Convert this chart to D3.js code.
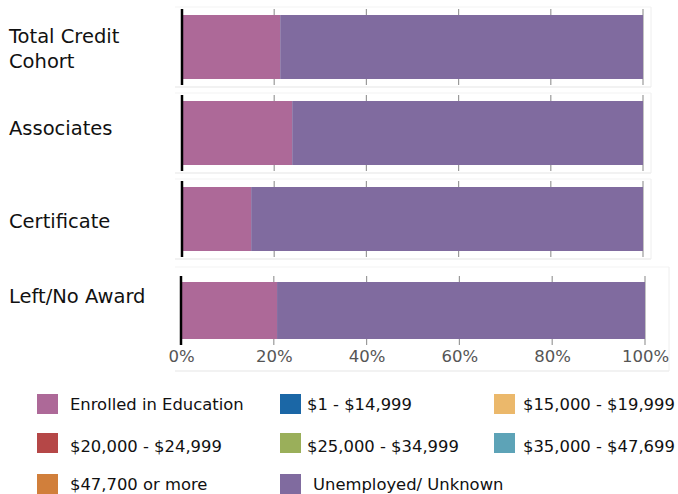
<!DOCTYPE html>
<html>
<head>
<meta charset="utf-8">
<script src="https://cdn.jsdelivr.net/npm/d3@7"></script>
<style>
  body { margin: 0; background: #fff; }
  svg text { font-family: "DejaVu Sans", Verdana, sans-serif; }
</style>
</head>
<body>
<div id="chart"></div>
<script>
// categories and series (percent of each cohort)
const categories = ["Total Credit Cohort", "Associates", "Certificate", "Left/No Award"];
const labelLines = [["Total Credit", "Cohort"], ["Associates"], ["Certificate"], ["Left/No Award"]];
const seriesNames = ["Enrolled in Education", "$1 - $14,999", "$15,000 - $19,999", "$20,000 - $24,999",
  "$25,000 - $34,999", "$35,000 - $47,699", "$47,700 or more", "Unemployed/ Unknown"];
const enrolled   = [21.3, 23.9, 15.0, 20.7];
const inc1       = [0, 0, 0, 0];
const inc15      = [0, 0, 0, 0];
const inc20      = [0, 0, 0, 0];
const inc25      = [0, 0, 0, 0];
const inc35      = [0, 0, 0, 0];
const inc47      = [0, 0, 0, 0];
const unemployed = [78.7, 76.1, 85.0, 79.3];
const tickValues = [0, 20, 40, 60, 80, 100];

const colors = ["#ad6998", "#1b67a6", "#ebb86b", "#b54747", "#9aaf5a", "#5da3b7", "#d17f3b", "#806b9f"];
const allSeries = [enrolled, inc1, inc15, inc20, inc25, inc35, inc47, unemployed];

const W = 678, H = 494;
const svg = d3.select("#chart").append("svg")
  .attr("width", W).attr("height", H);

// each category gets its own little panel
const panels = [
  {top: 7,   bottom: 87,  left: 175, right: 651, x0: 182, x1: 643, axTop: 9,   axBot: 85,  labelY: 43},
  {top: 93,  bottom: 173, left: 175, right: 651, x0: 182, x1: 643, axTop: 95,  axBot: 171, labelY: 135},
  {top: 179, bottom: 259, left: 175, right: 651, x0: 182, x1: 643, axTop: 181, axBot: 257, labelY: 228},
  {top: 267, bottom: 371, left: 175, right: 669, x0: 181, x1: 645, axTop: 276, axBot: 345, labelY: 303}
];

const rows = categories.map((c, i) => {
  let acc = 0;
  const segs = allSeries.map((s, k) => {
    const seg = {key: k, start: acc, end: acc + s[i]};
    acc += s[i];
    return seg;
  });
  return {cat: c, segs: segs};
});

rows.forEach((row, i) => {
  const p = panels[i];
  const x = d3.scaleLinear().domain([0, 100]).range([p.x0, p.x1]);
  const g = svg.append("g");

  // faint panel frame
  g.append("line").attr("x1", p.left).attr("x2", p.right).attr("y1", p.top).attr("y2", p.top)
    .attr("stroke", "#f3f3f3");
  g.append("line").attr("x1", p.left).attr("x2", p.right).attr("y1", p.bottom).attr("y2", p.bottom)
    .attr("stroke", "#eeeeee").attr("stroke-width", 1.5);
  g.append("line").attr("x1", p.right).attr("x2", p.right).attr("y1", p.top).attr("y2", p.bottom)
    .attr("stroke", "#eeeeee");

  // gridlines
  g.selectAll(".grid").data(tickValues.slice(1)).enter().append("line")
    .attr("x1", d => x(d)).attr("x2", d => x(d))
    .attr("y1", p.axTop).attr("y2", p.axBot)
    .attr("stroke", "#9a9a9a").attr("stroke-width", 1.2);

  const barTop = p.axTop + 6, barBot = p.axBot - 6;
  g.selectAll(".seg").data(row.segs.filter(s => s.end > s.start)).enter().append("rect")
    .attr("x", d => x(d.start))
    .attr("width", d => x(d.end) - x(d.start))
    .attr("y", barTop)
    .attr("height", barBot - barTop)
    .attr("fill", d => colors[d.key]);

  // axis line
  g.append("line").attr("x1", p.x0).attr("x2", p.x0).attr("y1", p.axTop).attr("y2", p.axBot)
    .attr("stroke", "#000").attr("stroke-width", 2.5);

  // category label
  const lines = labelLines[i];
  const t = svg.append("text").attr("x", 10).attr("font-size", 19.5).attr("fill", "#111");
  lines.forEach((ln, j) => {
    t.append("tspan").attr("x", 9).attr("y", p.labelY + j * 25).text(ln);
  });

  if (i === categories.length - 1) {
    const ax = svg.append("g").attr("transform", `translate(0,${p.axBot})`)
      .call(d3.axisBottom(x).tickValues(tickValues).tickFormat(d => d + "%").tickSize(0).tickPadding(5));
    ax.select(".domain").remove();
    ax.selectAll("text").attr("font-size", 16.5).attr("fill", "#555")
      .style("font-family", "\"DejaVu Sans\", Verdana, sans-serif");
  }
});

// legend
const legCols = [37, 280, 494];
const legTextX = [70, 307, 523];
const legRows = [404, 443, 484];
const legBase = [410, 452, 490];
const leg = svg.append("g");
seriesNames.forEach((name, k) => {
  const c = k % 3, r = Math.floor(k / 3);
  leg.append("rect").attr("x", legCols[c]).attr("y", legRows[r] - 10).attr("width", 21).attr("height", 20)
    .attr("fill", colors[k]);
  leg.append("text").attr("x", legTextX[c] + (k === seriesNames.length - 1 ? 6 : 0)).attr("y", legBase[r])
    .attr("font-size", 16.4).attr("fill", "#111").text(name);
});
</script>
</body>
</html>
